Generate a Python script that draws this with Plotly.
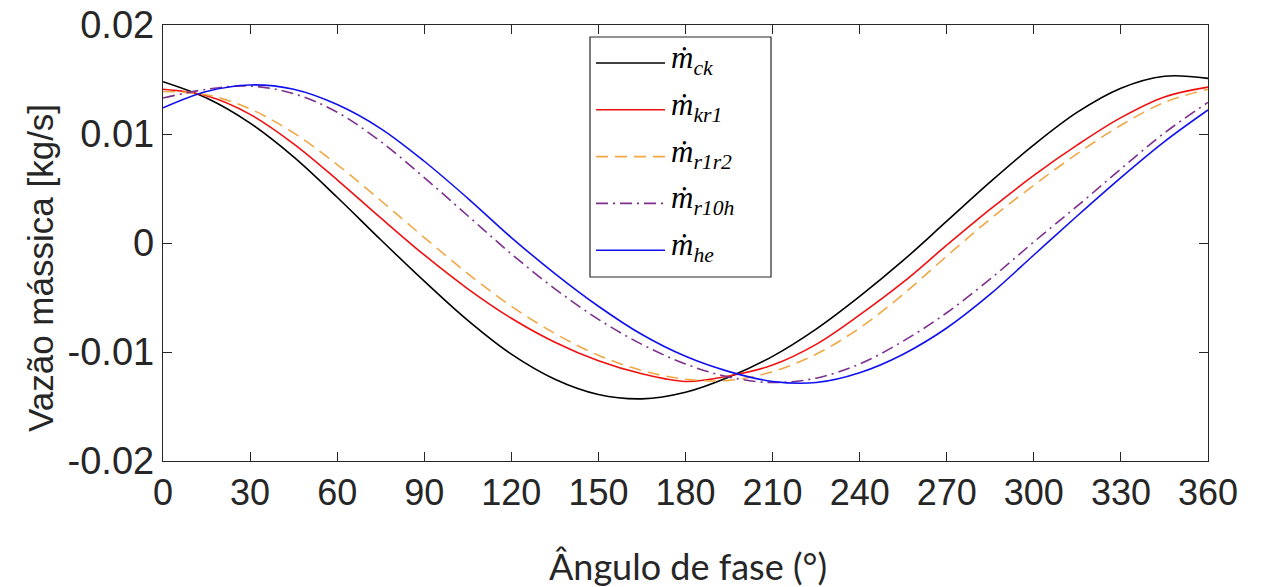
import plotly.graph_objects as go

# Phase angle (degrees)
angle = [0, 15, 30, 45, 60, 75, 90, 105, 120, 135, 150, 165, 180,
         195, 210, 225, 240, 255, 270, 285, 300, 315, 330, 345, 360]

# Mass flow rates [kg/s]
m_ck = [0.0148, 0.0133, 0.0110, 0.0079, 0.0042, 0.0003, -0.0035, -0.0071, -0.0102,
        -0.0125, -0.0139, -0.0143, -0.0137, -0.0123, -0.0104, -0.0079, -0.0049,
        -0.0016, 0.0020, 0.0056, 0.0090, 0.0120, 0.0142, 0.0153, 0.0151]
m_kr1 = [0.0141, 0.0135, 0.0118, 0.0091, 0.0058, 0.0023, -0.0011, -0.0042, -0.0069,
         -0.0091, -0.0108, -0.0120, -0.0127, -0.0122, -0.0112, -0.0093, -0.0066,
         -0.0036, -0.0002, 0.0031, 0.0062, 0.0090, 0.0115, 0.0134, 0.0143]
m_r1r2 = [0.0139, 0.0136, 0.0123, 0.0101, 0.0072, 0.0039, 0.0005, -0.0028, -0.0058,
          -0.0083, -0.0103, -0.0117, -0.0125, -0.0126, -0.0118, -0.0102, -0.0078,
          -0.0047, -0.0012, 0.0022, 0.0053, 0.0082, 0.0108, 0.0129, 0.0141]
m_r10h = [0.0133, 0.0141, 0.0144, 0.0137, 0.0120, 0.0093, 0.0060, 0.0025, -0.0010,
          -0.0042, -0.0070, -0.0093, -0.0111, -0.0123, -0.0128, -0.0124, -0.0111,
          -0.0090, -0.0064, -0.0033, 0.0001, 0.0034, 0.0068, 0.0101, 0.0129]
m_he = [0.0124, 0.0139, 0.0145, 0.0141, 0.0127, 0.0105, 0.0075, 0.0041, 0.0005,
        -0.0028, -0.0058, -0.0084, -0.0104, -0.0118, -0.0127, -0.0128, -0.0119,
        -0.0102, -0.0078, -0.0047, -0.0011, 0.0025, 0.0060, 0.0093, 0.0122]

x_ticks = [0, 30, 60, 90, 120, 150, 180, 210, 240, 270, 300, 330, 360]
y_ticks = [-0.02, -0.01, 0, 0.01, 0.02]
y_ticktext = ["-0.02", "-0.01", "0", "0.01", "0.02"]

series = [
    ("ck", m_ck, "#000000", "solid"),
    ("kr1", m_kr1, "#F01010", "solid"),
    ("r1r2", m_r1r2, "#F0A845", "12px,7px"),
    ("r10h", m_r10h, "#7E2F8E", "12px,5px,2px,5px"),
    ("he", m_he, "#1010F0", "solid"),
]

W, H = 1262, 587
L, R, T, B = 163, 54, 25, 126
pw, ph = W - L - R, H - T - B


def px(xp):
    return (xp - L) / pw


def py(yp):
    return (H - B - yp) / ph


fig = go.Figure()
for name, vals, color, dash in series:
    fig.add_trace(go.Scatter(
        x=angle, y=vals, mode="lines", name=name, showlegend=False,
        line=dict(color=color, width=1.6, dash=dash, shape="spline"),
    ))

# Legend box drawn as shapes and annotations
shapes = [dict(type="rect", xref="paper", yref="paper",
               x0=px(590), x1=px(771), y0=py(277), y1=py(37),
               line=dict(color="#262626", width=1.2), fillcolor="white", layer="above")]
annotations = []
for i, (name, vals, color, dash) in enumerate(series):
    yl = 63 + i * 46.8
    shapes.append(dict(type="line", xref="paper", yref="paper",
                       x0=px(596), x1=px(665), y0=py(yl), y1=py(yl),
                       line=dict(color=color, width=1.6, dash=dash), layer="above"))
    annotations.append(dict(
        xref="paper", yref="paper", x=px(669), y=py(yl - 3), xanchor="left", yanchor="middle",
        text="<i>ṁ</i><sub><i>" + name + "</i></sub>", showarrow=False,
        font=dict(family="Liberation Serif", size=31, color="#000000"),
    ))

annotations.append(dict(
    xref="paper", yref="paper", x=px(688), y=py(566), xanchor="center", yanchor="middle",
    text="Ângulo de fase (°)", showarrow=False,
    font=dict(family="Lato", size=36, color="#262626"),
))
annotations.append(dict(
    xref="paper", yref="paper", x=px(40), y=py(268), xanchor="center", yanchor="middle",
    text="Vazão mássica [kg/s]", showarrow=False, textangle=-90,
    font=dict(family="Liberation Sans", size=35, color="#262626"),
))

fig.update_layout(
    width=W, height=H,
    margin=dict(l=L, r=R, t=T, b=B, autoexpand=False),
    paper_bgcolor="white", plot_bgcolor="white",
    shapes=shapes, annotations=annotations,
    xaxis=dict(range=[0, 360], tickvals=x_ticks, ticks="inside", ticklen=9,
               tickcolor="#262626", showline=True, linecolor="#262626", linewidth=1.4,
               mirror="ticks", showgrid=False, zeroline=False, automargin=False,
               tickfont=dict(family="Liberation Sans", size=36, color="#262626")),
    yaxis=dict(range=[-0.02, 0.02], tickvals=y_ticks, ticktext=y_ticktext, ticks="inside",
               ticklen=9, tickcolor="#262626", showline=True, linecolor="#262626",
               linewidth=1.4, mirror="ticks", showgrid=False, zeroline=False, automargin=False,
               tickfont=dict(family="Liberation Sans", size=38, color="#262626")),
)

fig.write_html("out.html")
